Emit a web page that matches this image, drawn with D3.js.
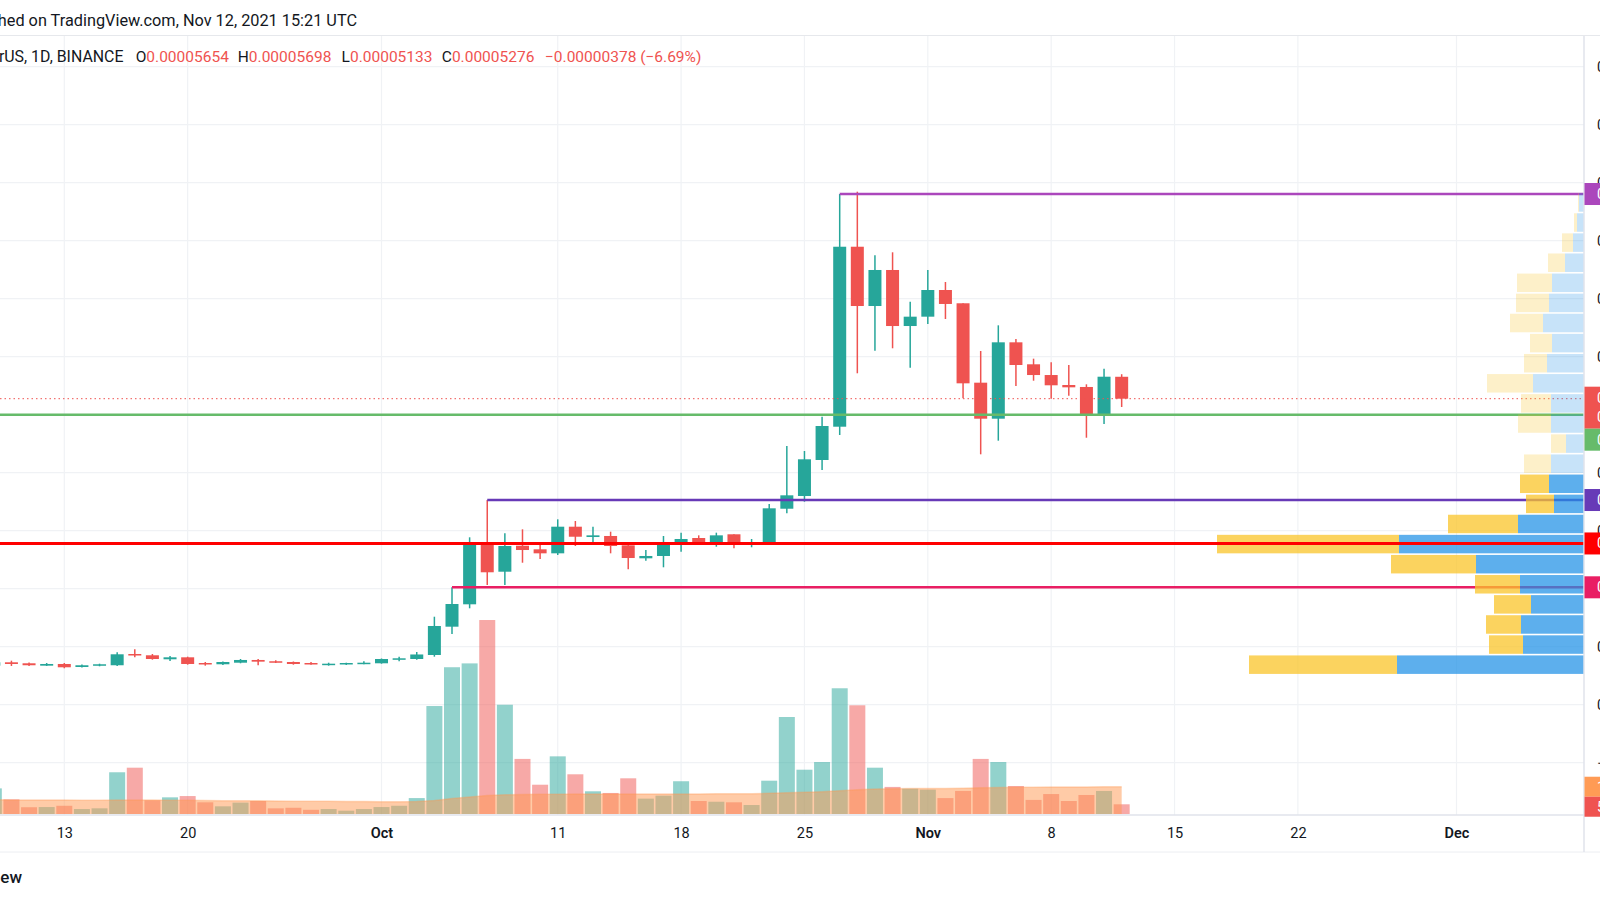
<!DOCTYPE html>
<html><head><meta charset="utf-8">
<script src="https://cdn.jsdelivr.net/npm/d3@7"></script>
<style>
html,body{margin:0;padding:0;background:#fff;overflow:hidden;}
svg{display:block;font-family:Roboto,"Open Sans",sans-serif;}
</style></head><body>
<svg id="c" width="1600" height="900"></svg>
<script>
// ---------------- DATA ----------------
const dates = ["2021-09-09","2021-09-10","2021-09-11","2021-09-12","2021-09-13","2021-09-14","2021-09-15","2021-09-16","2021-09-17","2021-09-18","2021-09-19","2021-09-20","2021-09-21","2021-09-22","2021-09-23","2021-09-24","2021-09-25","2021-09-26","2021-09-27","2021-09-28","2021-09-29","2021-09-30",
"2021-10-01","2021-10-02","2021-10-03","2021-10-04","2021-10-05","2021-10-06","2021-10-07","2021-10-08","2021-10-09","2021-10-10","2021-10-11","2021-10-12","2021-10-13","2021-10-14","2021-10-15","2021-10-16","2021-10-17","2021-10-18","2021-10-19","2021-10-20","2021-10-21","2021-10-22","2021-10-23","2021-10-24","2021-10-25","2021-10-26","2021-10-27","2021-10-28","2021-10-29","2021-10-30","2021-10-31",
"2021-11-01","2021-11-02","2021-11-03","2021-11-04","2021-11-05","2021-11-06","2021-11-07","2021-11-08","2021-11-09","2021-11-10","2021-11-11","2021-11-12"];
const opens = [673e-8,731e-8,714e-8,673e-8,702e-8,650e-8,673e-8,680e-8,874e-8,852e-8,783e-8,817e-8,719e-8,697e-8,724e-8,771e-8,749e-8,736e-8,719e-8,685e-8,697e-8,707e-8,
714e-8,776e-8,788e-8,857e-8,1345e-8,1731e-8,2783e-8,2293e-8,2741e-8,2679e-8,2610e-8,3069e-8,2891e-8,2909e-8,2748e-8,2524e-8,2564e-8,2776e-8,2874e-8,2783e-8,2938e-8,2771e-8,2783e-8,3379e-8,3598e-8,4219e-8,4793e-8,7896e-8,6874e-8,7495e-8,6529e-8,
6690e-8,7150e-8,6921e-8,5552e-8,4931e-8,6248e-8,5869e-8,5684e-8,5512e-8,5478e-8,5012e-8,5654e-8];
const highs = [771e-8,759e-8,728e-8,719e-8,719e-8,693e-8,707e-8,904e-8,955e-8,874e-8,840e-8,828e-8,736e-8,745e-8,788e-8,788e-8,766e-8,745e-8,736e-8,724e-8,724e-8,749e-8,
797e-8,828e-8,909e-8,1517e-8,2024e-8,2886e-8,3529e-8,2955e-8,3024e-8,2783e-8,3196e-8,3167e-8,3069e-8,2983e-8,2760e-8,2667e-8,2909e-8,2966e-8,2920e-8,2966e-8,2938e-8,2857e-8,3460e-8,4460e-8,4374e-8,4966e-8,8805e-8,8845e-8,7748e-8,7800e-8,6948e-8,
7495e-8,7288e-8,6921e-8,6098e-8,6541e-8,6305e-8,5966e-8,5903e-8,5857e-8,5524e-8,5793e-8,5698e-8];
const lows = [650e-8,668e-8,668e-8,668e-8,628e-8,642e-8,662e-8,668e-8,817e-8,776e-8,754e-8,690e-8,673e-8,685e-8,714e-8,680e-8,719e-8,690e-8,690e-8,673e-8,685e-8,697e-8,
707e-8,749e-8,776e-8,828e-8,1219e-8,1662e-8,2064e-8,2064e-8,2448e-8,2512e-8,2581e-8,2736e-8,2753e-8,2610e-8,2334e-8,2483e-8,2369e-8,2638e-8,2753e-8,2724e-8,2697e-8,2714e-8,2771e-8,3300e-8,3500e-8,4047e-8,4650e-8,5714e-8,6103e-8,6145e-8,5810e-8,
6564e-8,6650e-8,5283e-8,4317e-8,4552e-8,5495e-8,5586e-8,5276e-8,5328e-8,4603e-8,4840e-8,5133e-8];
const closes = [731e-8,702e-8,680e-8,702e-8,645e-8,680e-8,697e-8,869e-8,852e-8,788e-8,817e-8,702e-8,697e-8,736e-8,771e-8,742e-8,724e-8,702e-8,697e-8,707e-8,719e-8,724e-8,
788e-8,800e-8,866e-8,1357e-8,1736e-8,2783e-8,2283e-8,2736e-8,2667e-8,2610e-8,3069e-8,2896e-8,2920e-8,2736e-8,2529e-8,2564e-8,2776e-8,2857e-8,2788e-8,2920e-8,2766e-8,2805e-8,3386e-8,3610e-8,4231e-8,4805e-8,7896e-8,6874e-8,7495e-8,6529e-8,6690e-8,
7150e-8,6909e-8,5541e-8,4931e-8,6248e-8,5857e-8,5684e-8,5507e-8,5472e-8,5012e-8,5655e-8,5276e-8];
// volume, trillions of SHIB
const volumes = [1.40,0.80,0.37,0.38,0.45,0.27,0.31,2.28,2.53,0.75,0.91,0.98,0.64,0.42,0.62,0.71,0.31,0.34,0.23,0.27,0.18,0.27,
0.38,0.45,0.87,5.90,8.02,8.23,10.60,5.97,3.01,1.60,3.15,2.17,1.24,1.15,1.95,0.84,1.00,1.79,0.71,0.67,0.64,0.49,1.82,5.30,2.42,2.84,6.87,5.94,2.53,1.48,1.38,
1.33,0.87,1.26,3.01,2.84,1.53,0.77,1.09,0.71,1.04,1.26,0.53];
const volumeMA = [0.78,0.77,0.77,0.77,0.76,0.75,0.75,0.76,0.77,0.76,0.75,0.75,0.74,0.73,0.73,0.72,0.71,0.70,0.70,0.69,0.68,0.68,
0.67,0.67,0.68,0.74,0.85,0.93,1.01,1.05,1.07,1.08,1.08,1.09,1.09,1.09,1.09,1.09,1.09,1.09,1.09,1.10,1.10,1.11,1.13,1.16,1.19,1.22,1.27,1.32,1.37,1.38,1.39,
1.39,1.40,1.41,1.43,1.45,1.46,1.46,1.47,1.48,1.48,1.49,1.49];
// volume profile (visible range), rows from lowest price upward
const vpLow = 0.00000517, vpHigh = 0.00008833;
const vpUp   = [18.7,6.1,6.3,5.3,6.4,10.8,18.5,6.6,3.0,3.5,3.3,1.8,3.3,3.3,5.1,3.7,3.2,4.1,3.5,3.2,1.9,1.1,0.7,0.5];
const vpDown = [14.8,3.4,3.5,3.7,4.5,8.5,18.2,7.0,2.8,2.9,2.7,1.5,3.3,3.0,4.6,2.3,2.2,3.3,3.3,3.5,1.7,1.1,0.3,0.1];
const vaLowRow = 0, vaHighRow = 9;
// drawn horizontal levels
const levelValues = [0.00008805, 0.00003529, 0.00002024, 0.00005000, 0.00002780];
const levelStarts = ["2021-10-27","2021-10-07","2021-10-05",null,null];
const levelColors = ["#ab47bc","#673ab7","#e91e63","#66bb6a","#ff0000"];
const levelWidths = [2.5,2.5,2.5,2.5,3];
// axes
const priceTicks = [-0.00001,0,0.00001,0.00002,0.00003,0.00004,0.00005,0.00006,0.00007,0.00008,0.00009,0.0001,0.00011];
const timeTickDates = ["2021-09-13","2021-09-20","2021-10-01","2021-10-11","2021-10-18","2021-10-25","2021-11-01","2021-11-08","2021-11-15","2021-11-22","2021-12-01"];
const timeTickLabels = ["13","20","Oct","11","18","25","Nov","8","15","22","Dec"];
const symbolText = "SHIB / TetherUS, 1D, BINANCE";
const publishedText = "Published on TradingView.com, Nov 12, 2021 15:21 UTC";
const countdownText = "08:38:39";

// ---------------- LAYOUT ----------------
const svg = d3.select("#c");
const paneTop = 36, paneBottom = 815, axisX = 1584, footerLine = 852;
const UP = "#26a69a", DOWN = "#ef5350";
const parse = d3.utcParse("%Y-%m-%d");
const data = dates.map((d,i)=>({date:parse(d), o:opens[i], h:highs[i], l:lows[i], c:closes[i], v:volumes[i], ma:volumeMA[i]}));

const x = d3.scaleUtc().domain([parse("2021-09-13"), parse("2021-12-01")]).range([64.3, 1456.5]);
const y = d3.scaleLinear().domain([0.00005, 0.0001]).range([414.7, 124.7]);
const vy = d3.scaleLinear().domain([0, 10]).range([814, 631]);

svg.append("rect").attr("width",1600).attr("height",900).attr("fill","#fff");
svg.append("defs").append("clipPath").attr("id","pane").append("rect")
  .attr("x",0).attr("y",paneTop).attr("width",axisX).attr("height",paneBottom-paneTop);
const pane = svg.append("g").attr("clip-path","url(#pane)");

// grid
pane.selectAll("line.hg").data(priceTicks).join("line").attr("class","hg")
  .attr("x1",0).attr("x2",axisX).attr("y1",d=>y(d)).attr("y2",d=>y(d))
  .attr("stroke","#f0f2f5").attr("stroke-width",1.2);
pane.selectAll("line.vg").data(timeTickDates.map(parse)).join("line").attr("class","vg")
  .attr("x1",d=>x(d)).attr("x2",d=>x(d)).attr("y1",paneTop).attr("y2",paneBottom)
  .attr("stroke","#f0f2f5").attr("stroke-width",1.2);

// volume bars
const barW = 16;
pane.selectAll("rect.vol").data(data).join("rect").attr("class","vol")
  .attr("x",d=>x(d.date)-barW/2).attr("width",barW)
  .attr("y",d=>vy(d.v)).attr("height",d=>vy(0)-vy(d.v))
  .attr("fill",d=>d.c>=d.o ? "rgba(38,166,154,0.5)" : "rgba(239,83,80,0.5)");
// volume MA area
const area = d3.area().x(d=>x(d.date)).y0(vy(0)).y1(d=>vy(d.ma));
pane.append("path").datum(data).attr("d",area).attr("fill","rgba(255,152,80,0.5)");
pane.append("path").datum(data).attr("d",d3.line().x(d=>x(d.date)).y(d=>vy(d.ma)))
  .attr("fill","none").attr("stroke","rgba(255,152,80,0.35)").attr("stroke-width",1.5);

// candles
const bodyW = 13;
const cg = pane.append("g");
cg.selectAll("line.wick").data(data).join("line").attr("class","wick")
  .attr("x1",d=>x(d.date)).attr("x2",d=>x(d.date)).attr("y1",d=>y(d.h)).attr("y2",d=>y(d.l))
  .attr("stroke",d=>d.c>=d.o?UP:DOWN).attr("stroke-width",1.5);
cg.selectAll("rect.body").data(data).join("rect").attr("class","body")
  .attr("x",d=>x(d.date)-bodyW/2).attr("width",bodyW)
  .attr("y",d=>y(Math.max(d.o,d.c))).attr("height",d=>Math.max(1.5, Math.abs(y(d.o)-y(d.c))))
  .attr("fill",d=>d.c>=d.o?UP:DOWN);

// horizontal levels (all but red first, VP on top, red last)
const levels = levelValues.map((v,i)=>({v, start:levelStarts[i]?parse(levelStarts[i]):null, color:levelColors[i], w:levelWidths[i]}));
function drawLevel(l){
  pane.append("line").attr("x1",l.start?x(l.start):0).attr("x2",axisX)
    .attr("y1",y(l.v)).attr("y2",y(l.v)).attr("stroke",l.color).attr("stroke-width",l.w);
}
levels.filter(l=>l.color!=="#ff0000").forEach(drawLevel);

// last price dotted line
const last = data[data.length-1];
pane.append("line").attr("x1",0).attr("x2",axisX).attr("y1",y(last.c)).attr("y2",y(last.c))
  .attr("stroke",DOWN).attr("stroke-width",1).attr("stroke-dasharray","1.5,3");

// volume profile
const rowSize = (vpHigh - vpLow)/vpUp.length;
const totals = vpUp.map((u,i)=>u+vpDown[i]);
const wS = d3.scaleLinear().domain([0, d3.max(totals)]).range([0, 367]);
const vpg = pane.append("g");
vpUp.forEach((u,k)=>{
  const lo = vpLow + k*rowSize, hi = lo + rowSize;
  const top = y(hi)+0.8, h = y(lo)-y(hi)-1.6;
  const va = k>=vaLowRow && k<=vaHighRow;
  const wu = wS(u), wd = wS(vpDown[k]);
  vpg.append("rect").attr("x",axisX-wu).attr("y",top).attr("width",wu).attr("height",h)
    .attr("fill", va ? "rgba(30,144,230,0.72)" : "rgba(30,144,230,0.25)");
  vpg.append("rect").attr("x",axisX-wu-wd).attr("y",top).attr("width",wd).attr("height",h)
    .attr("fill", va ? "rgba(249,196,41,0.75)" : "rgba(249,196,41,0.25)");
});
levels.filter(l=>l.color==="#ff0000").forEach(drawLevel);

// frame lines
svg.append("line").attr("x1",0).attr("x2",1600).attr("y1",paneTop-0.5).attr("y2",paneTop-0.5).attr("stroke","#e6e8ec");
svg.append("line").attr("x1",0).attr("x2",1600).attr("y1",paneBottom).attr("y2",paneBottom).attr("stroke","#e0e3eb").attr("stroke-width",1.5);
svg.append("line").attr("x1",0).attr("x2",1600).attr("y1",footerLine).attr("y2",footerLine).attr("stroke","#eceef2");
svg.append("line").attr("x1",axisX).attr("x2",axisX).attr("y1",paneTop).attr("y2",footerLine).attr("stroke","#e0e3eb").attr("stroke-width",1.5);

// price labels on axis (stacked to avoid overlap)
const fmt = d3.format(".8f");
const axisLabels = [
  {yc:y(levelValues[0]), h:22, color:"#ab47bc", lines:[fmt(levelValues[0])]},
  {yc:y(last.c), h:42, color:DOWN, lines:[fmt(last.c), countdownText], topOff:12},
  {yc:y(levelValues[3]), h:22, color:"#66bb6a", lines:[fmt(levelValues[3])]},
  {yc:y(levelValues[1]), h:22, color:"#673ab7", lines:[fmt(levelValues[1])]},
  {yc:y(levelValues[4]), h:22, color:"#ff0000", lines:[fmt(levelValues[4])]},
  {yc:y(levelValues[2]), h:22, color:"#e91e63", lines:[fmt(levelValues[2])]},
  {yc:vy(last.ma), h:20, color:"#ff9b55", lines:[d3.format(".2f")(last.ma)+"T"]},
  {yc:vy(last.v), h:20, color:DOWN, lines:[d3.format(".1f")(last.v*1000)+"B"]}
];
axisLabels.forEach(l=>{ l.top = l.yc - (l.topOff!==undefined ? l.topOff : l.h/2); });
axisLabels.sort((a,b)=>a.top-b.top);
for(let i=1;i<axisLabels.length;i++){
  const p = axisLabels[i-1], c = axisLabels[i];
  if(c.top < p.top + p.h) c.top = p.top + p.h;
}

// price axis (tick labels hidden where a coloured label covers them)
const covered = v => axisLabels.some(l => y(v) > l.top + 2 && y(v) < l.top + l.h - 2);
const pa = svg.append("g").attr("transform",`translate(${axisX},0)`)
  .call(d3.axisRight(y).tickValues(priceTicks.filter(v=>!covered(v))).tickFormat(fmt).tickSize(0).tickPadding(13));
pa.select(".domain").remove();
pa.selectAll("text").attr("font-size",14).attr("fill","#131722").attr("font-family","Roboto, sans-serif");

axisLabels.forEach(l=>{
  svg.append("rect").attr("x",axisX+0.5).attr("y",l.top).attr("width",40).attr("height",l.h).attr("fill",l.color);
  l.lines.forEach((t,j)=>{
    svg.append("text").attr("x",1597).attr("y",l.top+ (l.h>30 ? 16+ j*19 : l.h/2+5)).attr("font-size",14)
      .attr("fill","#fff").text(t);
  });
});

// time axis
const ta = svg.append("g").attr("transform",`translate(0,${paneBottom})`)
  .call(d3.axisBottom(x).tickValues(timeTickDates.map(parse)).tickFormat((d,i)=>timeTickLabels[i]).tickSize(0).tickPadding(13));
ta.select(".domain").remove();
ta.selectAll("text").attr("font-size",14.5).attr("fill","#131722").attr("font-family","Roboto, sans-serif")
  .attr("font-weight",(d,i)=>/^[A-Z]/.test(timeTickLabels[i]) ? 600 : 400);

// header texts
svg.append("text").attr("x",357).attr("y",26).attr("text-anchor","end").attr("font-size",16.3)
  .attr("fill","#131722").text(publishedText);
const leg = svg.append("g").attr("font-size",15.5).attr("fill","#131722");
leg.append("text").attr("x",123.5).attr("y",62).attr("text-anchor","end").attr("font-size",15.9).text(symbolText);
const ohlc = [["O",last.o,135.7],["H",last.h,237.8],["L",last.l,341.6],["C",last.c,441.8]];
ohlc.forEach(([k,v,px])=>{
  const t = leg.append("text").attr("x",px).attr("y",62);
  t.append("tspan").text(k);
  t.append("tspan").attr("fill",DOWN).text(fmt(v));
});
const chg = last.c - last.o;
leg.append("text").attr("x",545).attr("y",62).attr("fill",DOWN)
  .text(fmt(chg).replace("-","\u2212") + " (" + d3.format(".2f")(chg/last.o*100).replace("-","\u2212") + "%)");

// footer
svg.append("text").attr("x",22).attr("y",883).attr("text-anchor","end").attr("font-size",17)
  .attr("font-weight",500).attr("fill","#131722").text("TradingView");
</script>
</body></html>
